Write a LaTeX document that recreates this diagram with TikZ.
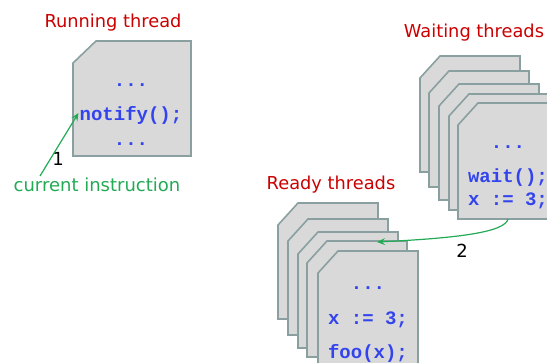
\documentclass[tikz,border=0pt]{standalone}
\usepackage{fontspec}
\setmainfont{DejaVu Sans}
\newfontfamily\codefont{Liberation Mono}
\usetikzlibrary{arrows.meta}
\definecolor{boxfill}{HTML}{D9D9D9}
\definecolor{boxline}{HTML}{8AA0A0}
\definecolor{codeblue}{HTML}{3344EE}
\definecolor{titlered}{HTML}{CC0000}
\definecolor{arrowgreen}{HTML}{22AA55}
\tikzset{
  threadbox/.style={fill=boxfill,draw=boxline,line width=1.6pt,line join=miter},
  code/.style={font=\codefont\bfseries\fontsize{19}{19}\selectfont,text=codeblue,anchor=base,inner sep=0pt},
  heading/.style={font=\fontsize{17.8}{18}\selectfont,text=titlered,anchor=base,inner sep=0pt},
  remark/.style={font=\fontsize{18}{18}\selectfont,anchor=base,inner sep=0pt},
  link/.style={draw=arrowgreen,line width=1.2pt,-{Stealth[length=8pt,width=7pt,inset=3pt]}},
  % one thread card: 100 x 116 with a clipped upper-left corner
  thread/.pic={
    \path[threadbox] (0,22) -- (20,0) -- (100,0) -- (100,116) -- (0,116) -- cycle;
    \coordinate (-south) at (50,116);
    \coordinate (-top) at (60,0);
  }
}
\begin{document}
\begin{tikzpicture}[x=1pt,y=-1pt]
\useasboundingbox (0,0) rectangle (547,363);
\clip (0,0) rectangle (547,363);

% running thread
\node[heading] (runtitle) at (113,28) {Running thread};
\path[threadbox] (73,63) -- (96,41) -- (191,41) -- (191,156) -- (73,156) -- cycle;
\node[code] (rdots1) at (131,87) {...};
\node[code] (notify) at (131,121) {notify();};
\node[code] (rdots2) at (131,146) {...};

\node[remark,text=arrowgreen] (curinstr) at (97,192) {current instruction};
\node[remark] (one) at (58,166) {1};
\coordinate (curtip) at (40,176);
\draw[link] (curtip) -- ([xshift=-1pt,yshift=3pt]notify.west);

% waiting threads
\node[heading] (waittitle) at (474,38) {Waiting threads};
\pic (w1) at (420,56) {thread};
\pic (w2) at (429,71) {thread};
\pic (w3) at (439,84) {thread};
\pic (w4) at (449,94) {thread};
\pic (w5) at (458,103) {thread};
\node[code] (wdots) at (508,149) {...};
\node[code] (wwait) at (508,183) {wait();};
\node[code] (wassign) at (508,206) {x := 3;};

% ready threads
\node[heading] (readytitle) at (331,190) {Ready threads};
\pic (r1) at (278,203) {thread};
\pic (r2) at (288,219) {thread};
\pic (r3) at (298,232) {thread};
\pic (r4) at (307,241) {thread};
\pic (r5) at (318,251) {thread};
\node[code] (rdots) at (368,290) {...};
\node[code] (rassign) at (368,325) {x := 3;};
\node[code] (rfoo) at (368,359) {foo(x);};

% notify moves a waiting thread to the ready set
\coordinate (readyin) at (377,242);
\draw[link] (w5-south) .. controls (505,232) and (460,238) .. (readyin);
\node[remark] (two) at (462,258) {2};
\end{tikzpicture}
\end{document}
